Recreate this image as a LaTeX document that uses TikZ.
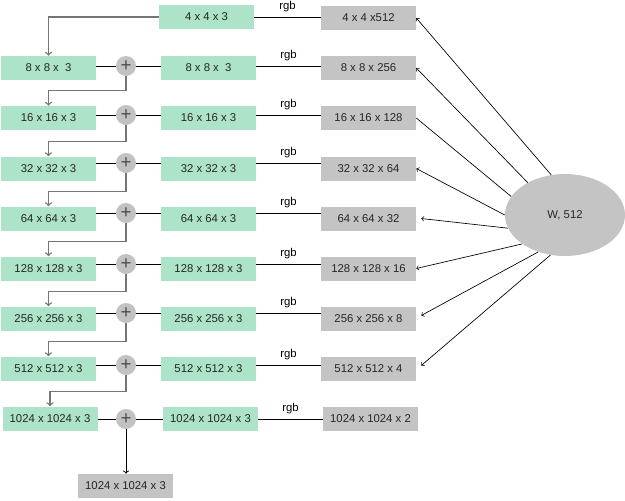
\documentclass[tikz,border=0pt]{standalone}
\usepackage{fontspec}
\setmainfont{Liberation Sans}
\usetikzlibrary{calc,arrows,shapes}
\definecolor{boxgreen}{HTML}{ADE3C8}
\definecolor{boxgrey}{HTML}{C4C4C4}
\definecolor{plusgrey}{HTML}{C2C2C2}
\definecolor{linegrey}{HTML}{757575}
\tikzset{
	greenbox/.style={rectangle,fill=boxgreen,minimum width=71.25pt,minimum height=18pt,inner sep=0pt,font=\fontsize{8.5}{10}\selectfont,text=black!85},
	greybox/.style={greenbox,fill=boxgrey},
	plusnode/.style={circle,fill=plusgrey,minimum size=15pt,inner sep=0pt,font=\fontsize{14}{14}\selectfont,text=black!70},
	link/.style={line width=0.7pt},
	stepline/.style={line width=1pt,color=linegrey,->},
	wire/.style={line width=0.5pt,->},
	rgblabel/.style={above=0.5pt,font=\fontsize{8.5}{10}\selectfont}
}
\begin{document}
\begin{tikzpicture}[x=0.75pt,y=-0.75pt]
	\useasboundingbox (0,0) rectangle (625,500);
	\node[greenbox] (m0) at (206.5,17) {4 x 4 x 3};
	\node[greybox] (g0) at (368.5,18) {4 x 4 x512};
	\draw[link] (m0.east) -- (m0.east -| g0.west) node[midway,rgblabel] {rgb};
	\node[greenbox] (l1) at (48.5,68) {8 x 8 x\ \ 3};
	\node[plusnode] (p1) at (126,66) {+};
	\node[greenbox] (m1) at (208.5,68) {8 x 8 x\ \ 3};
	\node[greybox] (g1) at (368.5,68) {8 x 8 x 256};
	\node[greenbox] (l2) at (48.5,118) {16 x 16 x 3};
	\node[plusnode] (p2) at (126,115) {+};
	\node[greenbox] (m2) at (208.5,118) {16 x 16 x 3};
	\node[greybox] (g2) at (368.5,118) {16 x 16 x 128};
	\node[greenbox] (l3) at (48.5,168.5) {32 x 32 x 3};
	\node[plusnode] (p3) at (126,163) {+};
	\node[greenbox] (m3) at (208.5,168.5) {32 x 32 x 3};
	\node[greybox] (g3) at (368.5,168.5) {32 x 32 x 64};
	\node[greenbox] (l4) at (48.5,218.5) {64 x 64 x 3};
	\node[plusnode] (p4) at (126,213) {+};
	\node[greenbox] (m4) at (208.5,218.5) {64 x 64 x 3};
	\node[greybox] (g4) at (368.5,218.5) {64 x 64 x 32};
	\node[greenbox] (l5) at (48.5,268.5) {128 x 128 x 3};
	\node[plusnode] (p5) at (126,264) {+};
	\node[greenbox] (m5) at (208.5,268.5) {128 x 128 x 3};
	\node[greybox] (g5) at (368.5,268.5) {128 x 128 x 16};
	\node[greenbox] (l6) at (48.5,318.5) {256 x 256 x 3};
	\node[plusnode] (p6) at (126,313) {+};
	\node[greenbox] (m6) at (208.5,318.5) {256 x 256 x 3};
	\node[greybox] (g6) at (368.5,318.5) {256 x 256 x 8};
	\node[greenbox] (l7) at (48.5,368.5) {512 x 512 x 3};
	\node[plusnode] (p7) at (126,365) {+};
	\node[greenbox] (m7) at (208.5,368.5) {512 x 512 x 3};
	\node[greybox] (g7) at (368.5,368.5) {512 x 512 x 4};
	\node[greenbox] (l8) at (50,418.5) {1024 x 1024 x 3};
	\node[plusnode] (p8) at (126,419) {+};
	\node[greenbox] (m8) at (210.5,418.5) {1024 x 1024 x 3};
	\node[greybox] (g8) at (370.5,418.5) {1024 x 1024 x 2};
	\node[greybox] (out) at (125.5,486) {1024 x 1024 x 3};
	\node[ellipse,fill=boxgrey,minimum width=90pt,minimum height=61.5pt,inner sep=0pt,font=\fontsize{8.5}{10}\selectfont,text=black!85] (W) at (565,215) {W, 512};
	% sums and rgb lines
	\draw[link] (l1.east |- p1) -- (p1.west) (p1.east) -- (m1.west |- p1) (m1.east |- p1) -- (g1.west |- p1) node[midway,rgblabel] {rgb};
	\draw[link] (l2.east |- p2) -- (p2.west) (p2.east) -- (m2.west |- p2) (m2.east |- p2) -- (g2.west |- p2) node[midway,rgblabel] {rgb};
	\draw[link] (l3.east |- p3) -- (p3.west) (p3.east) -- (m3.west |- p3) (m3.east |- p3) -- (g3.west |- p3) node[midway,rgblabel] {rgb};
	\draw[link] (l4.east |- p4) -- (p4.west) (p4.east) -- (m4.west |- p4) (m4.east |- p4) -- (g4.west |- p4) node[midway,rgblabel] {rgb};
	\draw[link] (l5.east |- p5) -- (p5.west) (p5.east) -- (m5.west |- p5) (m5.east |- p5) -- (g5.west |- p5) node[midway,rgblabel] {rgb};
	\draw[link] (l6.east |- p6) -- (p6.west) (p6.east) -- (m6.west |- p6) (m6.east |- p6) -- (g6.west |- p6) node[midway,rgblabel] {rgb};
	\draw[link] (l7.east |- p7) -- (p7.west) (p7.east) -- (m7.west |- p7) (m7.east |- p7) -- (g7.west |- p7) node[midway,rgblabel] {rgb};
	\draw[link] (l8.east |- p8) -- (p8.west) (p8.east) -- (m8.west |- p8) (m8.east |- p8) -- (g8.west |- p8) node[midway,rgblabel] {rgb};
	% upsampling steps
	\draw[stepline] (m0.west) -| (l1.north);
	\draw[stepline] (p1.south) |- ($(l2.north)+(0,-15)$) -- (l2.north);
	\draw[stepline] (p2.south) |- ($(l3.north)+(0,-15)$) -- (l3.north);
	\draw[stepline] (p3.south) |- ($(l4.north)+(0,-15)$) -- (l4.north);
	\draw[stepline] (p4.south) |- ($(l5.north)+(0,-15)$) -- (l5.north);
	\draw[stepline] (p5.south) |- ($(l6.north)+(0,-15)$) -- (l6.north);
	\draw[stepline] (p6.south) |- ($(l7.north)+(0,-15)$) -- (l7.north);
	\draw[stepline] (p7.south) |- ($(l8.north)+(0,-15)$) -- (l8.north);
	\draw[link,->] (p8.south) -- (p8.south |- out.north);
	% style inputs
	\draw[wire] (W.109) -- (g0.east);
	\draw[wire] (W.139) -- (g1.east);
	\draw[line width=0.5pt] (W.161) -- (g2.east);
	\draw[wire] (W.180) -- (g3.east);
	\draw[wire] (W.193) -- ($(g4.east)+(5,0)$);
	\draw[wire] (W.214) -- (g5.east);
	\draw[wire] (W.234) -- ($(g6.east)+(5,-3)$);
	\draw[wire] (W.250) -- ($(g7.east)+(5,-3)$);
\end{tikzpicture}
\end{document}
